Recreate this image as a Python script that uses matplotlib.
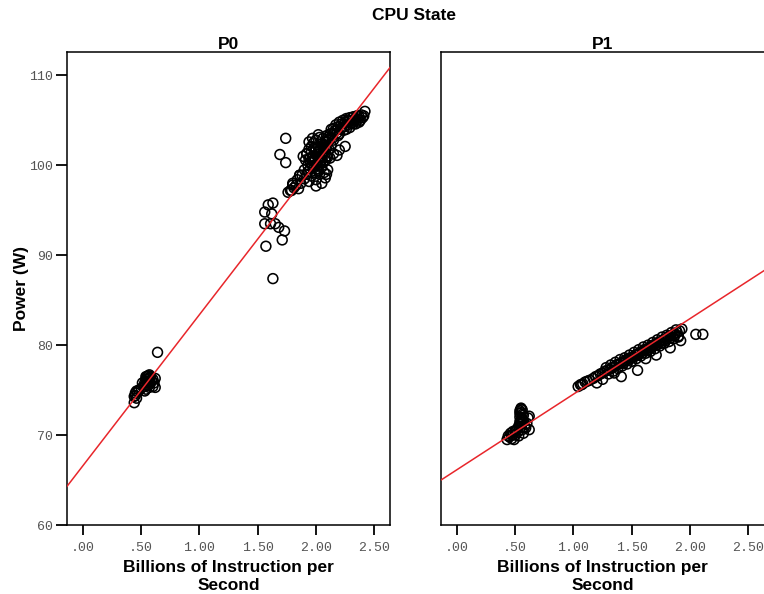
import matplotlib
matplotlib.use("Agg")
from matplotlib import pyplot as plt

# P0 state: billions of instructions per second vs power (W)
p0_x = [0.44, 0.44, 0.45, 0.46, 0.47, 0.48, 0.50, 0.52, 0.53, 0.54, 0.54, 0.55, 0.55, 0.56,
        0.56, 0.57, 0.57, 0.58, 0.58, 0.59, 0.60, 0.60, 0.61, 0.62, 0.62, 0.64, 0.53, 0.51,
        0.54, 0.55, 0.56, 0.57, 0.55, 0.56, 0.54, 0.57, 0.45, 0.46,
        1.63, 1.57, 1.71, 1.73, 1.56, 1.59, 1.63, 1.62, 1.56, 1.61, 1.65, 1.68,
        1.74, 1.69, 1.74, 1.86,
        1.76, 1.79, 1.81, 1.83, 1.85, 1.87, 1.80, 1.84, 1.86, 1.78, 1.80, 1.88,
        1.90, 1.90, 1.91, 1.92, 1.92, 1.93, 1.94, 1.94, 1.95, 1.95, 1.96, 1.96, 1.97, 1.97,
        1.98, 1.98, 1.99, 1.99, 2.00, 2.00, 2.00, 2.01, 2.01, 2.02, 2.02, 2.03, 2.03, 2.04,
        2.04, 2.05, 2.05, 2.06, 2.06, 2.07, 2.07, 2.08, 2.08, 2.09, 2.09, 2.10, 2.10, 2.11,
        2.12, 2.12, 2.13, 2.13,
        1.93, 1.95, 1.97, 1.99, 2.01, 2.03, 2.05, 2.07, 2.09, 2.11, 1.96, 1.98, 2.00, 2.02,
        2.04, 2.06, 2.08, 2.10, 1.94, 2.00, 2.03, 2.06, 1.99, 2.02, 2.05, 2.08, 2.11, 2.14,
        2.08, 2.05, 2.15, 2.18, 2.25, 1.94, 1.89, 2.02, 1.97, 2.20, 2.09, 2.00, 1.92, 2.10,
        2.14, 2.15, 2.16, 2.17, 2.18, 2.19, 2.20, 2.21, 2.22, 2.23, 2.24, 2.25, 2.26, 2.27,
        2.28, 2.29, 2.30, 2.31, 2.32, 2.33, 2.34, 2.35, 2.36, 2.37, 2.38, 2.39, 2.40, 2.42,
        2.20, 2.26, 2.15, 2.17, 2.22, 2.27, 2.32, 2.37, 2.41, 2.19, 2.24, 2.29, 2.34]
p0_y = [73.6, 74.3, 74.7, 74.1, 74.8, 75.0, 75.2, 75.4, 75.8, 76.2, 75.1, 76.5, 75.6, 76.0,
        76.6, 75.3, 76.3, 75.8, 76.5, 76.0, 75.4, 76.2, 75.8, 76.3, 75.3, 79.2, 74.9, 75.8,
        75.6, 75.9, 76.3, 76.0, 76.2, 75.5, 76.5, 76.7, 74.4, 74.9,
        87.4, 91.0, 91.7, 92.7, 94.8, 95.6, 95.8, 94.6, 93.5, 93.5, 93.5, 93.1,
        103.0, 101.2, 100.3, 98.9,
        97.0, 97.2, 97.5, 97.8, 97.4, 98.0, 97.8, 98.4, 98.9, 97.2, 98.0, 98.9,
        98.5, 99.5, 100.6, 101.3, 99.0, 100.0, 98.2, 101.8, 99.6, 100.8, 102.1, 98.8, 99.9, 101.0,
        100.4, 102.5, 99.2, 101.5, 100.1, 102.8, 98.4, 99.6, 101.2, 100.6, 102.0, 99.0, 103.1, 100.9,
        101.8, 99.8, 102.4, 100.3, 103.0, 101.5, 99.2, 102.0, 100.5, 103.3, 101.0, 102.6, 99.5, 101.8,
        103.5, 100.8, 102.2, 104.0,
        99.3, 100.3, 100.5, 100.8, 100.2, 101.6, 101.1, 102.3, 101.9, 102.9, 101.5, 99.7, 101.8, 101.5,
        100.4, 101.8, 102.6, 100.9, 100.7, 99.1, 100.3, 102.2, 102.0, 99.4, 100.6, 101.3, 102.8, 103.0,
        98.6, 98.0, 101.3, 101.1, 102.1, 102.6, 101.0, 103.4, 103.0, 101.7, 99.0, 97.7, 101.3, 103.1,
        103.4, 104.1, 103.8, 104.5, 103.6, 104.3, 104.8, 104.0, 104.6, 105.0, 104.3, 104.8, 105.2, 104.5,
        104.9, 105.3, 104.7, 105.0, 105.4, 104.9, 105.2, 105.5, 105.1, 105.4, 105.0, 105.6, 105.3, 106.0,
        103.5, 104.0, 102.8, 103.9, 104.2, 105.0, 104.6, 104.8, 105.5, 103.3, 103.9, 104.2, 104.6]

# P1 state
p1_x = [0.43, 0.45, 0.46, 0.47, 0.48, 0.50, 0.51, 0.52, 0.53, 0.54, 0.54, 0.55, 0.55, 0.56,
        0.56, 0.57, 0.55, 0.54, 0.56, 0.58, 0.60, 0.61, 0.62, 0.62, 0.53, 0.49, 0.57,
        0.54, 0.55, 0.56, 0.55, 0.54, 0.56, 0.55, 0.57, 0.44, 0.47, 0.50, 0.59,
        1.04, 1.06, 1.08, 1.10, 1.12, 1.14, 1.17, 1.19, 1.21, 1.23, 1.25, 1.27, 1.29, 1.31,
        1.33, 1.35, 1.37, 1.39, 1.41, 1.43, 1.45, 1.47, 1.49, 1.51, 1.53, 1.55, 1.57, 1.59,
        1.61, 1.63, 1.65, 1.67, 1.69, 1.71, 1.73, 1.75, 1.77, 1.79, 1.81, 1.83, 1.85, 1.87,
        1.89, 1.91,
        1.28, 1.32, 1.36, 1.40, 1.44, 1.48, 1.52, 1.56, 1.60, 1.64, 1.68, 1.72, 1.76, 1.80,
        1.84, 1.88,
        1.30, 1.34, 1.38, 1.42, 1.46, 1.50, 1.54, 1.58, 1.62, 1.66, 1.70, 1.74, 1.78, 1.82,
        1.86, 1.90,
        1.43, 1.47, 1.51, 1.55, 1.59, 1.63, 1.67, 1.71, 1.75, 1.79, 1.83, 1.87,
        1.41, 1.55, 1.71, 1.83, 1.07, 1.20, 1.25, 1.62, 1.35, 1.92, 1.90, 2.05, 2.11, 1.93]
p1_y = [69.5, 69.8, 70.2, 69.6, 70.4, 70.0, 70.6, 70.3, 71.0, 71.5, 72.0, 72.5, 71.2, 72.8,
        71.8, 72.2, 73.0, 72.7, 70.6, 70.9, 71.3, 71.9, 70.6, 72.1, 69.9, 69.5, 70.2,
        71.2, 71.7, 72.3, 72.9, 72.4, 71.4, 70.9, 71.6, 69.9, 70.0, 70.4, 70.8,
        75.4, 75.6, 75.7, 75.9, 76.0, 76.1, 76.3, 76.5, 76.6, 76.8, 76.9, 77.1, 77.2, 77.3,
        77.5, 77.6, 77.8, 77.9, 78.0, 78.2, 78.3, 78.5, 78.6, 78.7, 78.9, 79.0, 79.2, 79.3,
        79.5, 79.6, 79.7, 79.9, 80.0, 80.2, 80.3, 80.4, 80.6, 80.7, 80.9, 81.0, 81.1, 81.3,
        81.4, 81.6,
        77.5, 77.8, 78.1, 78.4, 78.6, 78.9, 79.2, 79.5, 79.8, 80.0, 80.3, 80.6, 80.9, 81.1,
        81.4, 81.7,
        76.8, 77.1, 77.4, 77.7, 77.9, 78.2, 78.5, 78.8, 79.1, 79.3, 79.6, 79.9, 80.2, 80.4,
        80.7, 81.0,
        78.0, 78.3, 78.6, 78.9, 79.1, 79.4, 79.7, 80.0, 80.2, 80.5, 80.8, 81.1,
        76.5, 77.2, 78.9, 79.7, 75.6, 75.8, 76.2, 78.5, 76.9, 80.5, 80.9, 81.2, 81.2, 81.8]

# fit lines (intercept, slope)
p0_fit = (66.6, 16.8)
p1_fit = (66.15, 8.4)

panels = ['P0', 'P1']
x_ticks = [0.0, 0.5, 1.0, 1.5, 2.0, 2.5]
x_tick_labels = ['.00', '.50', '1.00', '1.50', '2.00', '2.50']
y_ticks = [60, 70, 80, 90, 100, 110]

fig = plt.figure(figsize=(7.64, 5.94), dpi=100)
ax0 = fig.add_axes([67 / 764, 1 - 525 / 594, 323 / 764, 473 / 594])
ax1 = fig.add_axes([441 / 764, 1 - 525 / 594, 323 / 764, 473 / 594])

xlim = (-0.137, 2.635)
ylim = (60, 112.6)

data = [(ax0, p0_x, p0_y, p0_fit), (ax1, p1_x, p1_y, p1_fit)]
for i, (ax, xs, ys, fit) in enumerate(data):
    ax.scatter(xs, ys, s=50, facecolors='none', edgecolors='black', linewidths=1.15, zorder=2)
    b, m = fit
    ax.plot(list(xlim), [b + m * xlim[0], b + m * xlim[1]], color='#e8262b', lw=1.1, zorder=3)
    ax.set_xlim(xlim)
    ax.set_ylim(ylim)
    ax.set_xticks(x_ticks)
    ax.set_xticklabels(x_tick_labels, family='Liberation Mono', fontsize=9.5, color='#555555')
    ax.tick_params(axis='x', direction='out', length=7, width=1.3, color='black', pad=5)
    ax.set_xlabel('Billions of Instruction per\nSecond', fontsize=12.5, fontweight='bold',
                  family='Liberation Sans', linespacing=1.2)
    ax.xaxis.set_label_coords(0.5, -0.0745)
    ax.set_title(panels[i], fontsize=12.5, fontweight='bold', family='Liberation Sans', pad=2)
    for sp in ax.spines.values():
        sp.set_linewidth(1.1)

ax0.set_yticks(y_ticks)
ax0.set_yticklabels([str(v) for v in y_ticks], family='Liberation Mono', fontsize=9.5, color='#555555')
ax0.tick_params(axis='y', direction='out', length=8, width=1.3, color='black', pad=2)
ax0.set_ylabel('Power (W)', fontsize=12.5, fontweight='bold', family='Liberation Sans')
ax0.yaxis.set_label_coords(-0.118, 0.5)

ax1.set_yticks([])
ax1.spines['right'].set_visible(False)

fig.text(414 / 764, 1 - 15 / 594, 'CPU State', ha='center', va='center',
         fontsize=12.5, fontweight='bold', family='Liberation Sans')

fig.savefig('out.png', dpi=100)
